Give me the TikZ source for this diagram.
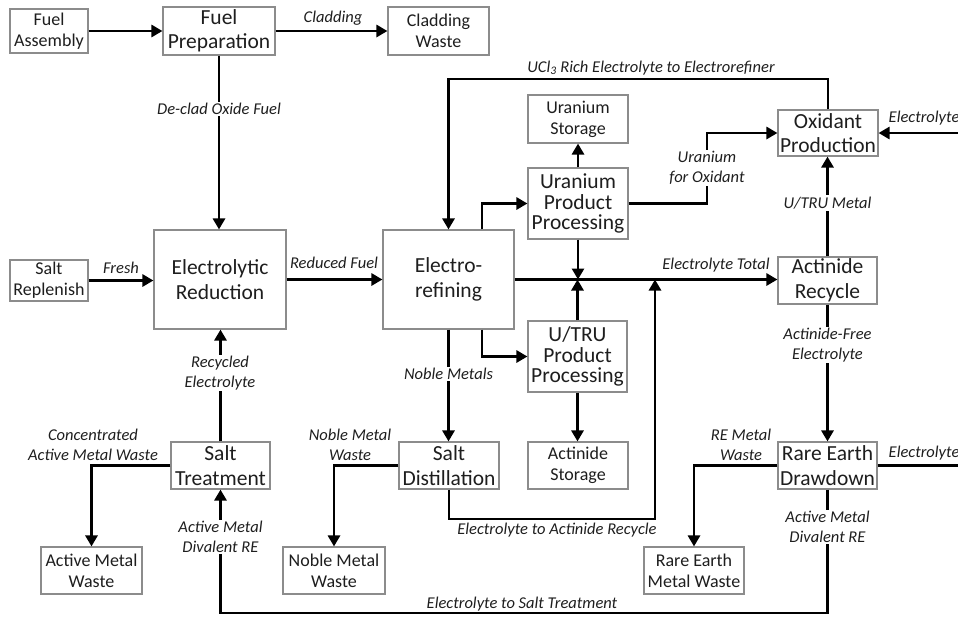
\documentclass[tikz,border=0pt]{standalone}
\usepackage{fontspec}
\setmainfont{Carlito}
\usetikzlibrary{arrows.meta}
\definecolor{boxgray}{HTML}{8C8C8C}
\definecolor{txt}{HTML}{1E1E1E}
\begin{document}
\begin{tikzpicture}[x=1pt,y=-1pt,
  box/.style={draw=boxgray, line width=1.1pt, fill=white, align=center, inner sep=1pt, text=txt},
  big/.style={box, font=\fontsize{21.5}{24.5}\selectfont},
  tall/.style={box, font=\fontsize{21.5}{20.5}\selectfont},
  small/.style={box, font=\fontsize{18}{21}\selectfont},
  flow/.style={line width=2.8pt, -{Triangle[length=11pt,width=12pt]}},
  plain/.style={line width=2.8pt},
  lab/.style={font=\fontsize{16.5}{19.5}\selectfont\itshape, align=center, text=txt, inner sep=1.5pt},
  labw/.style={lab, fill=white}]
\useasboundingbox (0,0) rectangle (958,619);

% boxes
\node[small, minimum width=78pt, minimum height=44pt] (fa) at (49,31) {Fuel\\Assembly};
\node[big, minimum width=112pt, minimum height=48pt] (fp) at (219,31) {Fuel\\Preparation};
\node[small, minimum width=101pt, minimum height=48pt] (cw) at (438.5,31) {Cladding\\Waste};
\node[small, minimum width=100pt, minimum height=48pt] (us) at (578,119) {Uranium\\Storage};
\node[big, minimum width=100pt, minimum height=46pt] (op) at (828,133) {Oxidant\\Production};
\node[tall, minimum width=100pt, minimum height=71pt] (upp) at (578,203.5) {Uranium\\Product\\Processing};
\node[big, minimum width=132pt, minimum height=99pt] (er) at (220,279.5) {Electrolytic\\Reduction};
\node[big, minimum width=131pt, minimum height=99pt] (ef) at (448.5,279.5) {Electro-\\refining};
\node[small, minimum width=78pt, minimum height=41pt] (sr) at (49,280.5) {Salt\\Replenish};
\node[tall, minimum width=99pt, minimum height=71pt] (utru) at (577.5,356.5) {U/TRU\\Product\\Processing};
\node[big, minimum width=99pt, minimum height=47pt] (ar) at (827.5,280.5) {Actinide\\Recycle};
\node[big, minimum width=99pt, minimum height=47pt] (red) at (827.5,465.5) {Rare Earth\\Drawdown};
\node[small, minimum width=100pt, minimum height=47pt] (rew) at (694,570.5) {Rare Earth\\Metal Waste};
\node[big, minimum width=99pt, minimum height=47pt] (st) at (220.5,465.5) {Salt\\Treatment};
\node[small, minimum width=101pt, minimum height=47pt] (amw) at (91.5,570.5) {Active Metal\\Waste};
\node[big, minimum width=100pt, minimum height=47pt] (sd) at (449,465.5) {Salt\\Distillation};
\node[small, minimum width=100pt, minimum height=47pt] (as) at (578,465.5) {Actinide\\Storage};
\node[small, minimum width=102pt, minimum height=47pt] (nmw) at (334,570.5) {Noble Metal\\Waste};

% helper coordinates
\coordinate (uo) at (707,0);
\coordinate (ucl) at (0,79);
\coordinate (eR1) at (958,133);
\coordinate (eR2) at (958,465.5);
\coordinate (bot) at (0,613);
\coordinate (ea) at (655,519);

% connectors
\draw[flow] (fa.east) -- (fa.east -| fp.west);
\draw[flow] (fp.east) -- (cw.west);
\draw[flow] (fp.south) -- (fp.south |- er.north);
\draw[flow] (sr.east) -- (sr.east -| er.west);
\draw[flow] (er.east) -- (ef.west);
\draw[flow] ([xshift=33.5pt]ef.north) |- (upp.west);
\draw[flow] ([xshift=33.5pt]ef.south) |- (utru.west);
\draw[flow] (ef.east) -- (ef.east -| ar.west);
\draw[flow] (upp.south) -- (upp.south |- ef.east);
\draw[flow] (utru.north) -- (utru.north |- ef.east);
\draw[flow] (upp.north) -- (us.south);
\draw[flow] (utru.south) -- (utru.south |- as.north);
\draw[flow] (upp.east) -| (uo |- op.west) -- (op.west);
\draw[flow] (op.north) |- (ucl -| ef.north) -- (ef.north);
\draw[flow] (ar.north) -- (ar.north |- op.south);
\draw[flow] (ar.south) -- (red.north);
\draw[flow] (eR1) -- (op.east);
\draw[plain] (red.east) -- (eR2);
\draw[flow] (red.west) -| (rew.north);
\draw[flow] (red.south) |- (bot -| st.south) -- (st.south);
\draw[flow] (st.north) -- (st.north |- er.south);
\draw[flow] (st.west) -| (amw.north);
\draw[flow] (ef.south) -- (ef.south |- sd.north);
\draw[flow] (sd.west) -| (nmw.north);
\draw[flow] (sd.south) |- (ea) -- (ea |- ef.east);

% labels
\node[lab] (l1) at (333,18) {Cladding};
\node[labw] (l2) at (219,109) {De-clad Oxide Fuel};
\node[lab] (l3) at (651,68) {UCl\textsubscript{3} Rich Electrolyte to Electrorefiner};
\node[labw] (l4) at (707,168) {Uranium\\for Oxidant};
\node[labw] (l5) at (827.5,203) {U/TRU Metal};
\node[lab, anchor=west] (l6) at (887,118) {Electrolyte};
\node[lab] (l7) at (121,268) {Fresh};
\node[lab] (l8) at (334,263) {Reduced Fuel};
\node[lab] (l9) at (716,265) {Electrolyte Total};
\node[labw] (l10) at (827.5,345) {Actinide-Free\\Electrolyte};
\node[labw] (l11) at (220,373) {Recycled\\Electrolyte};
\node[labw] (l12) at (448.5,374) {Noble Metals};
\node[lab] (l13) at (93,445) {Concentrated\\Active Metal Waste};
\node[labw] (l14) at (220.5,537) {Active Metal\\Divalent RE};
\node[lab] (l15) at (350,445) {Noble Metal\\Waste};
\node[lab] (l16) at (557,530) {Electrolyte to Actinide Recycle};
\node[lab] (l17) at (522,604) {Electrolyte to Salt Treatment};
\node[lab] (l18) at (741,445) {RE Metal\\Waste};
\node[labw] (l19) at (827.5,527) {Active Metal\\Divalent RE};
\node[lab, anchor=west] (l20) at (887,453) {Electrolyte};
\end{tikzpicture}
\end{document}
